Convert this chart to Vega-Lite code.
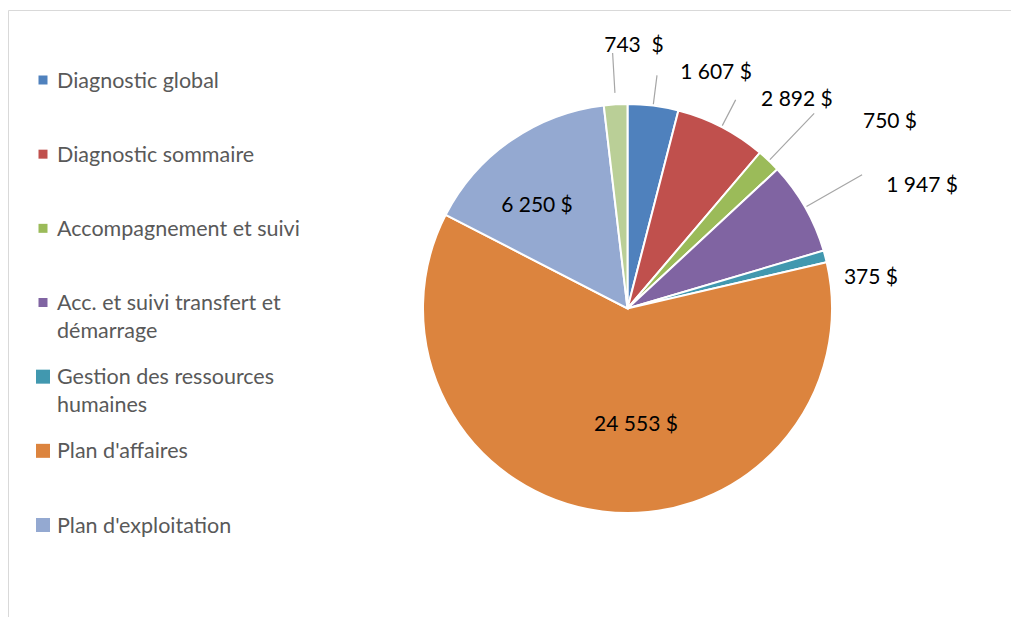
{
  "$schema": "https://vega.github.io/schema/vega-lite/v6.json",
  "width": 1003,
  "height": 607,
  "autosize": {"type": "none"},
  "padding": {"left": 8, "top": 10, "right": 0, "bottom": 0},
  "background": "white",
  "config": {"view": {"stroke": "#D9D9D9", "strokeWidth": 1}, "font": "Lato"},
  "data": {
    "values": [
      {"k": 1, "cat": "Diagnostic global", "value": 1607, "label": "1 607 $", "legend": "Diagnostic global"},
      {"k": 2, "cat": "Diagnostic sommaire", "value": 2892, "label": "2 892 $", "legend": "Diagnostic sommaire"},
      {"k": 3, "cat": "Accompagnement et suivi", "value": 750, "label": "750 $", "legend": "Accompagnement et suivi"},
      {"k": 4, "cat": "Acc. et suivi transfert et démarrage", "value": 2947, "label": "1 947 $", "legend": "Acc. et suivi transfert et\ndémarrage"},
      {"k": 5, "cat": "Gestion des ressources humaines", "value": 375, "label": "375 $", "legend": "Gestion des ressources\nhumaines"},
      {"k": 6, "cat": "Plan d'affaires", "value": 24553, "label": "24 553 $", "legend": "Plan d'affaires"},
      {"k": 7, "cat": "Plan d'exploitation", "value": 6250, "label": "6 250 $", "legend": "Plan d'exploitation"},
      {"k": 8, "cat": "Autre", "value": 743, "label": "743 \u00a0$", "legend": ""}
    ]
  },
  "layer": [
    {
      "mark": {"type": "arc", "outerRadius": 204.5, "stroke": "white", "strokeWidth": 2, "xOffset": 118, "yOffset": -5},
      "encoding": {
        "theta": {"field": "value", "type": "quantitative", "stack": true},
        "order": {"field": "k", "type": "quantitative"},
        "color": {
          "field": "cat", "type": "nominal", "legend": null,
          "scale": {
            "domain": ["Diagnostic global", "Diagnostic sommaire", "Accompagnement et suivi", "Acc. et suivi transfert et démarrage", "Gestion des ressources humaines", "Plan d'affaires", "Plan d'exploitation", "Autre"],
            "range": ["#4F81BD", "#C0504D", "#9BBB59", "#8064A2", "#4198AF", "#DC843E", "#94A9D1", "#BACF97"]
          }
        }
      }
    },
    {
      "mark": {"type": "arc", "outerRadius": 235, "innerRadius": 206, "padAngle": 3.1, "fillOpacity": 0, "stroke": "#A6A6A6", "strokeWidth": 1.2, "xOffset": 118, "yOffset": -5},
      "encoding": {
        "theta": {"field": "value", "type": "quantitative", "stack": true},
        "order": {"field": "k", "type": "quantitative"},
        "detail": {"field": "cat"},
        "strokeOpacity": {"condition": {"test": "datum.k === 1 || datum.k === 2", "value": 1}, "value": 0}
      }
    },
    {
      "mark": {"type": "arc", "outerRadius": 256, "innerRadius": 216, "padAngle": 3.1, "fillOpacity": 0, "stroke": "#A6A6A6", "strokeWidth": 1.2, "xOffset": 118, "yOffset": -5},
      "encoding": {
        "theta": {"field": "value", "type": "quantitative", "stack": true},
        "order": {"field": "k", "type": "quantitative"},
        "detail": {"field": "cat"},
        "strokeOpacity": {"condition": {"test": "datum.k === 8", "value": 1}, "value": 0}
      }
    },
    {
      "mark": {"type": "arc", "outerRadius": 270, "innerRadius": 206, "padAngle": 3.1, "fillOpacity": 0, "stroke": "#A6A6A6", "strokeWidth": 1.2, "xOffset": 118, "yOffset": -5},
      "encoding": {
        "theta": {"field": "value", "type": "quantitative", "stack": true},
        "order": {"field": "k", "type": "quantitative"},
        "detail": {"field": "cat"},
        "strokeOpacity": {"condition": {"test": "datum.k === 3 || datum.k === 4", "value": 1}, "value": 0}
      }
    },
    {
      "mark": {"type": "text", "radius": 255, "dx": 174.5, "dy": 12.5, "fontSize": 21, "font": "Lato", "fill": "#000000", "align": "center", "baseline": "middle"},
      "encoding": {
        "theta": {"field": "value", "type": "quantitative", "stack": true},
        "order": {"field": "k", "type": "quantitative"},
        "detail": {"field": "cat"},
        "text": {"condition": {"test": "datum.k === 1", "field": "label"}, "value": ""}
      }
    },
    {
      "mark": {"type": "text", "radius": 255, "dx": 170.1, "dy": 12.9, "fontSize": 21, "font": "Lato", "fill": "#000000", "align": "center", "baseline": "middle"},
      "encoding": {
        "theta": {"field": "value", "type": "quantitative", "stack": true},
        "order": {"field": "k", "type": "quantitative"},
        "detail": {"field": "cat"},
        "text": {"condition": {"test": "datum.k === 2", "field": "label"}, "value": ""}
      }
    },
    {
      "mark": {"type": "text", "radius": 255, "dx": 204.2, "dy": -7.3, "fontSize": 21, "font": "Lato", "fill": "#000000", "align": "center", "baseline": "middle"},
      "encoding": {
        "theta": {"field": "value", "type": "quantitative", "stack": true},
        "order": {"field": "k", "type": "quantitative"},
        "detail": {"field": "cat"},
        "text": {"condition": {"test": "datum.k === 3", "field": "label"}, "value": ""}
      }
    },
    {
      "mark": {"type": "text", "radius": 255, "dx": 191, "dy": -1.2, "fontSize": 21, "font": "Lato", "fill": "#000000", "align": "center", "baseline": "middle"},
      "encoding": {
        "theta": {"field": "value", "type": "quantitative", "stack": true},
        "order": {"field": "k", "type": "quantitative"},
        "detail": {"field": "cat"},
        "text": {"condition": {"test": "datum.k === 4", "field": "label"}, "value": ""}
      }
    },
    {
      "mark": {"type": "text", "radius": 255, "dx": 114.9, "dy": 29.5, "fontSize": 21, "font": "Lato", "fill": "#000000", "align": "center", "baseline": "middle"},
      "encoding": {
        "theta": {"field": "value", "type": "quantitative", "stack": true},
        "order": {"field": "k", "type": "quantitative"},
        "detail": {"field": "cat"},
        "text": {"condition": {"test": "datum.k === 5", "field": "label"}, "value": ""}
      }
    },
    {
      "mark": {"type": "text", "radius": 120, "dx": 141.3, "dy": -7.6, "fontSize": 21, "font": "Lato", "fill": "#000000", "align": "center", "baseline": "middle"},
      "encoding": {
        "theta": {"field": "value", "type": "quantitative", "stack": true},
        "order": {"field": "k", "type": "quantitative"},
        "detail": {"field": "cat"},
        "text": {"condition": {"test": "datum.k === 6", "field": "label"}, "value": ""}
      }
    },
    {
      "mark": {"type": "text", "radius": 120, "dx": 95.8, "dy": -8.4, "fontSize": 21, "font": "Lato", "fill": "#000000", "align": "center", "baseline": "middle"},
      "encoding": {
        "theta": {"field": "value", "type": "quantitative", "stack": true},
        "order": {"field": "k", "type": "quantitative"},
        "detail": {"field": "cat"},
        "text": {"condition": {"test": "datum.k === 7", "field": "label"}, "value": ""}
      }
    },
    {
      "mark": {"type": "text", "radius": 255, "dx": 139.3, "dy": -12.9, "fontSize": 21, "font": "Lato", "fill": "#000000", "align": "center", "baseline": "middle"},
      "encoding": {
        "theta": {"field": "value", "type": "quantitative", "stack": true},
        "order": {"field": "k", "type": "quantitative"},
        "detail": {"field": "cat"},
        "text": {"condition": {"test": "datum.k === 8", "field": "label"}, "value": ""}
      }
    },
    {
      "transform": [{"filter": "datum.k <= 7"}],
      "mark": {"type": "point", "shape": "square", "filled": true, "opacity": 1, "strokeWidth": 0, "xOffset": -466.5},
      "encoding": {
        "y": {
          "field": "cat", "type": "nominal", "axis": null,
          "scale": {
            "type": "point",
            "padding": 0,
            "domain": ["Diagnostic global", "Diagnostic sommaire", "Accompagnement et suivi", "Acc. et suivi transfert et démarrage", "Gestion des ressources humaines", "Plan d'affaires", "Plan d'exploitation"],
            "range": [70, 515]
          }
        },
        "color": {
          "field": "cat", "type": "nominal", "legend": null,
          "scale": {
            "domain": ["Diagnostic global", "Diagnostic sommaire", "Accompagnement et suivi", "Acc. et suivi transfert et démarrage", "Gestion des ressources humaines", "Plan d'affaires", "Plan d'exploitation", "Autre"],
            "range": ["#4F81BD", "#C0504D", "#9BBB59", "#8064A2", "#4198AF", "#DC843E", "#94A9D1", "#BACF97"]
          }
        },
        "size": {"condition": {"test": "datum.k >= 5", "value": 196}, "value": 81}
      }
    },
    {
      "transform": [{"filter": "datum.k <= 7"}],
      "mark": {"type": "text", "align": "left", "baseline": "alphabetic", "dx": -452.5, "dy": 7.5, "fontSize": 21.5, "font": "Lato", "fill": "#595959", "lineBreak": "\n", "lineHeight": 28},
      "encoding": {
        "y": {"field": "cat", "type": "nominal", "axis": null},
        "text": {"field": "legend"}
      }
    }
  ]
}
